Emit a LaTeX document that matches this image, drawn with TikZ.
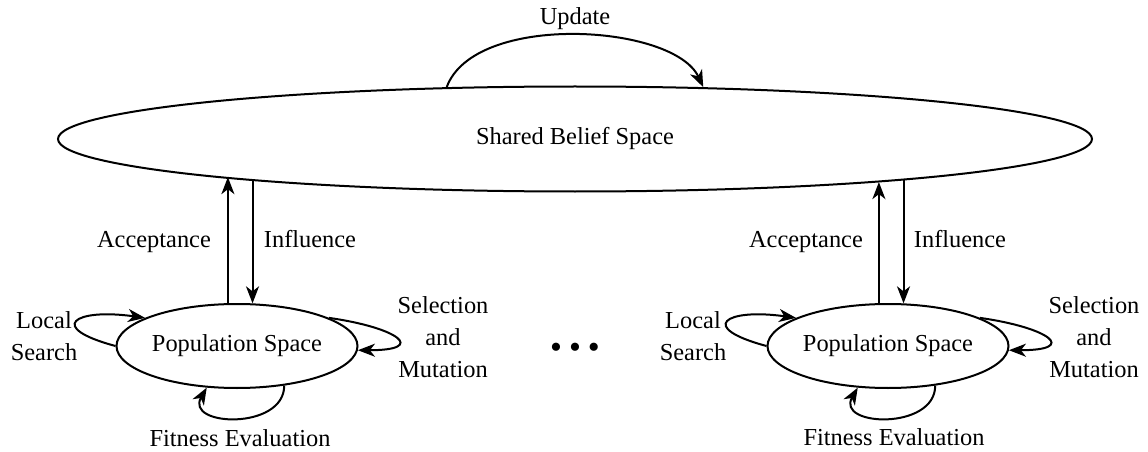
\documentclass[tikz,border=0pt]{standalone}
\usepackage{fontspec}
\setmainfont{Liberation Serif}
\usetikzlibrary{shapes.geometric,arrows.meta}
\begin{document}
\begin{tikzpicture}[x=0.5pt, y=0.5pt, line width=1pt,
  txt/.style={font=\fontsize{12.2}{16}\selectfont, align=center, inner sep=0pt},
  space/.style={draw, ellipse, inner sep=0pt, txt},
  arr/.style={-{Stealth[length=8.5pt, width=6.5pt, inset=2.5pt]}}]
\useasboundingbox (0,0) rectangle (1148,451);
% belief space and the two population spaces
\node[space, minimum width=517pt, minimum height=52.5pt] (belief) at (575,312) {Shared Belief Space};
\node[space, minimum width=120.5pt, minimum height=42pt] (popA) at (237,105) {Population Space};
\node[space, minimum width=120.5pt, minimum height=42pt] (popB) at (888,105) {Population Space};
\node[txt, font=\fontsize{17}{17}\selectfont] (dots) at (575,100) {\textbullet\hspace{3.5pt}\textbullet\hspace{3.5pt}\textbullet};
% update
\draw[arr] (belief.158) .. controls +(70:80) and +(115:70) .. (belief.22);
\node[txt] (update) at (575,432) {Update};
% left population
\draw[arr] (popA.102) -- (popA.102 |- belief.186.4);
\draw[arr] (popA.70 |- belief.187.2) -- (popA.70);
\node[txt, anchor=base] (acceptA) at (154,204) {Acceptance};
\node[txt, anchor=base] (influA) at (310,204) {Influence};
\draw[arr] (popA.180) .. controls +(165:72) and +(172:72) .. (popA.163);
\draw[arr] (popA.17) .. controls +(-8:70) and +(0:70) .. (popA.-2);
\draw[arr] (popA.-40) .. controls +(270:45) and +(240:45) .. (popA.234);
\node[txt] (localA) at (44,115) {Local\\Search};
\node[txt] (selA) at (443,114) {Selection\\and\\Mutation};
\node[txt] (fitA) at (240,13) {Fitness Evaluation};
% right population
\draw[arr] (popB.102) -- (popB.102 |- belief.352);
\draw[arr] (popB.70 |- belief.353) -- (popB.70);
\node[txt, anchor=base] (acceptB) at (806,204) {Acceptance};
\node[txt, anchor=base] (influB) at (960,204) {Influence};
\draw[arr] (popB.180) .. controls +(165:72) and +(172:72) .. (popB.163);
\draw[arr] (popB.17) .. controls +(-8:70) and +(0:70) .. (popB.-2);
\draw[arr] (popB.-40) .. controls +(270:45) and +(240:45) .. (popB.234);
\node[txt] (localB) at (693,115) {Local\\Search};
\node[txt] (selB) at (1094,114) {Selection\\and\\Mutation};
\node[txt] (fitB) at (894,14) {Fitness Evaluation};
\end{tikzpicture}
\end{document}
